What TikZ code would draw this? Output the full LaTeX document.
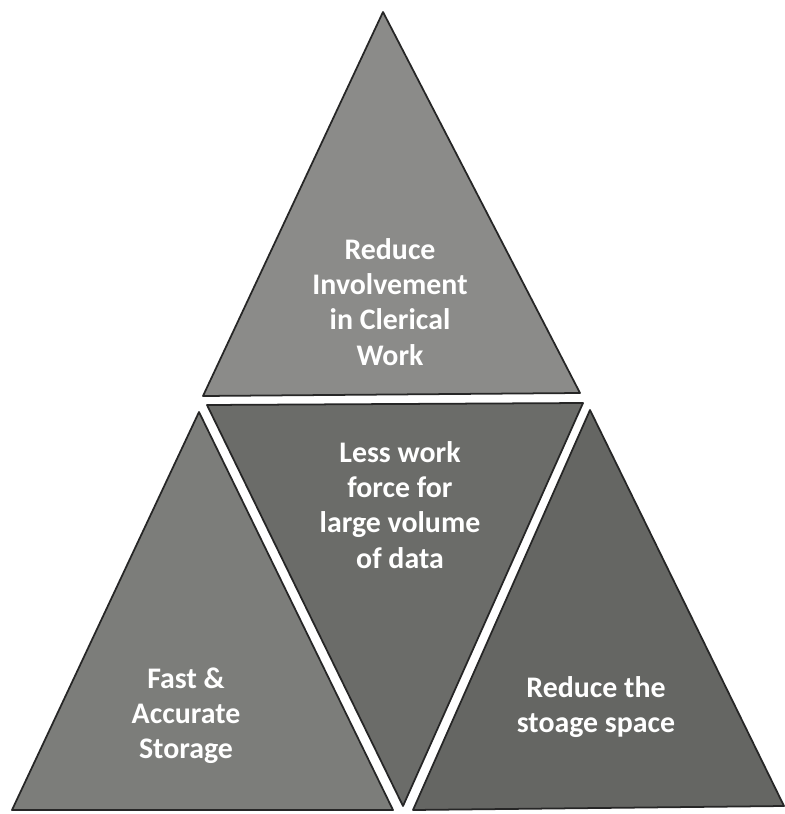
\documentclass[tikz,border=0pt]{standalone}
\usepackage{fontspec}
\setmainfont{Carlito}
\usepackage{tikz}
\usetikzlibrary{positioning}

\definecolor{topgray}{HTML}{8B8B89}
\definecolor{leftgray}{HTML}{7C7D7A}
\definecolor{midgray}{HTML}{6B6C69}
\definecolor{rightgray}{HTML}{656663}

\begin{document}
\begin{tikzpicture}[x=0.02cm, y=-0.02cm]
  \tikzstyle{piece}=[draw=black!85, line width=1pt, line join=round]
  \tikzstyle{label}=[text=white, align=center, font=\fontsize{17}{20}\selectfont\bfseries]
  \useasboundingbox[fill=white] (0,0) rectangle (784,814);
  % four pieces of the pyramid
  \fill[topgray, piece] (383,12) -- (203,396) -- (580,393) -- cycle;
  \fill[leftgray, piece] (199,412) -- (12,810) -- (393,810) -- cycle;
  \fill[midgray, piece] (207,405) -- (583,403) -- (403,806) -- cycle;
  \fill[rightgray, piece] (590,410) -- (413,810) -- (784,806) -- cycle;
  % texts
  \node[label] (clerical) at (390,302) {Reduce\\Involvement\\in Clerical\\Work};
  \node[label] (workforce) at (400,505) {Less work\\force for\\large volume\\of data};
  \node[label] (storage) at (186,716) {Fast \&\\Accurate\\Storage};
  \node[label] (space) at (596,707) {Reduce the\\stoage space};
\end{tikzpicture}
\end{document}
